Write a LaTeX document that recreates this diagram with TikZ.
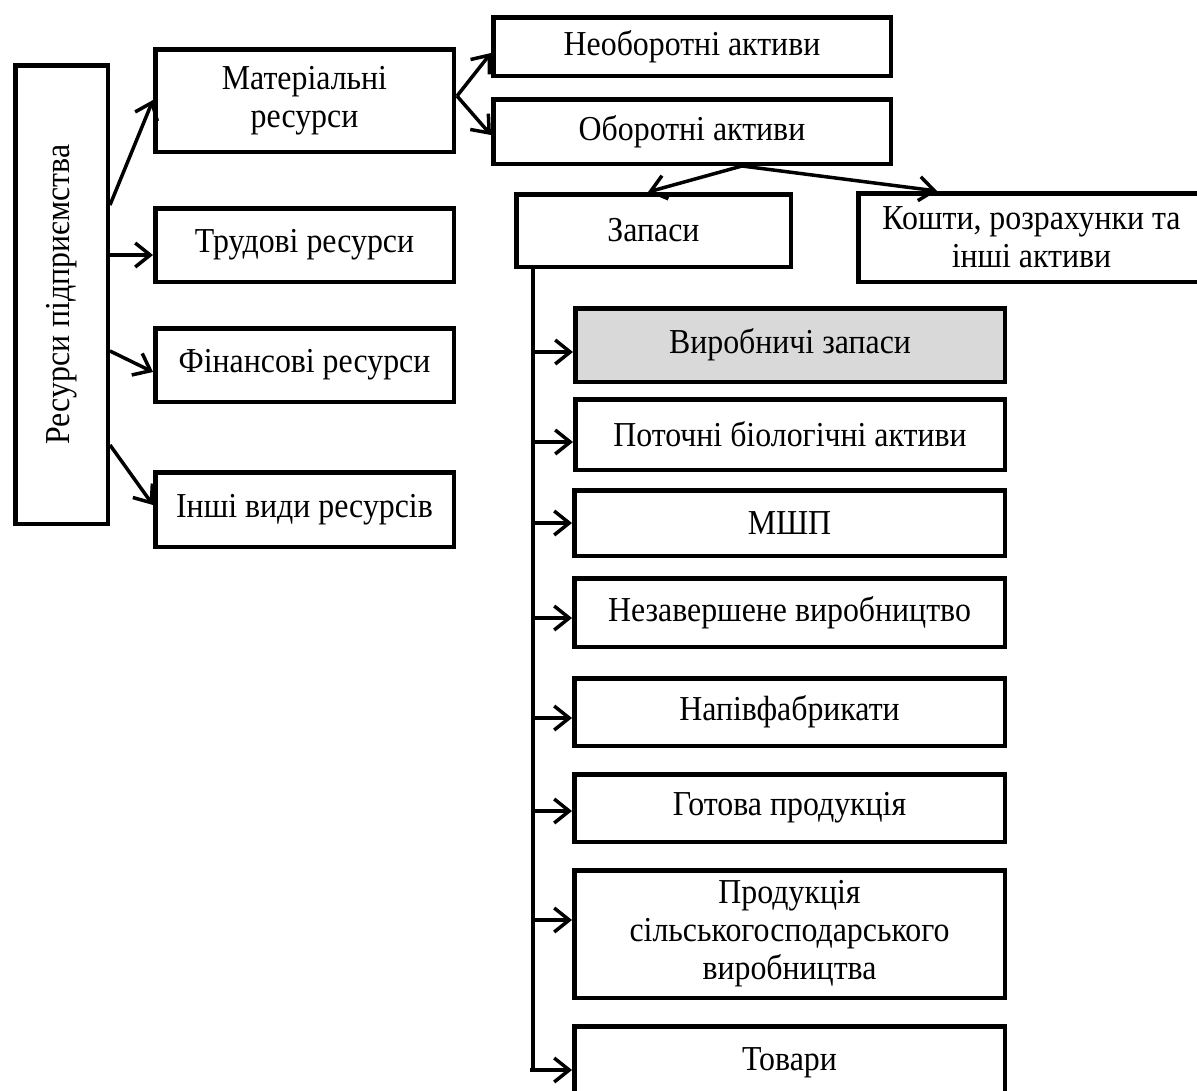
\documentclass[tikz,border=0pt]{standalone}
\usepackage{fontspec}
\setmainfont{Liberation Serif}[FakeStretch=0.91]
\usetikzlibrary{arrows.meta,calc}
\definecolor{boxgray}{RGB}{217,217,217}
\tikzset{
  box/.style={draw=black,line width=4.5pt,fill=white,inner sep=2pt,align=center,
    font=\fontsize{35}{38}\selectfont},
  arr/.style={line width=3.5pt,-{Straight Barb[length=15pt,width=24pt,line width=3.5pt]}},
  busline/.style={line width=3.5pt}
}
\newcommand{\mkbox}[7][]{\node[box,#1,minimum width={#4-#2-4.5},minimum height={#5-#3-4.5}] (#6) at ({(#2+#4)/2},{(#3+#5)/2}) {#7};}
\begin{document}
\begin{tikzpicture}[x=1pt,y=-1pt]
\useasboundingbox (0,0) rectangle (1197,1090);
\clip (0,0) rectangle (1197,1090);
% main vertical box
\node[box,rotate=90,minimum width={526-63-4.5},minimum height={110-13-4.5}] (main) at ({(13+110)/2},{(63+526)/2}) {Ресурси підприємства};
\mkbox{153}{47}{456}{154}{mat}{Матеріальні\\ресурси}
\mkbox{153}{206}{456}{284}{trud}{Трудові ресурси}
\mkbox{153}{326}{456}{404}{fin}{Фінансові ресурси}
\mkbox{153}{470}{456}{549}{insh}{Інші види ресурсів}
\mkbox{491}{15}{893}{78}{neob}{Необоротні активи}
\mkbox{491}{97}{893}{166}{obor}{Оборотні активи}
\mkbox{514}{192}{793}{269}{zap}{Запаси}
\mkbox{856}{191}{1207}{284}{kosh}{Кошти, розрахунки та\\інші активи}
\mkbox[fill=boxgray]{573}{306}{1007}{384}{vz}{Виробничі запаси}
\mkbox{573}{397}{1007}{472}{pot}{Поточні біологічні активи}
\mkbox{572}{488}{1007}{558}{msp}{МШП}
\mkbox{572}{576}{1007}{649}{nez}{Незавершене виробництво}
\mkbox{572}{676}{1007}{748}{nap}{Напівфабрикати}
\mkbox{572}{772}{1007}{844}{got}{Готова продукція}
\mkbox{572}{868}{1007}{1000}{prod}{Продукція\\сільськогосподарського\\виробництва}
\mkbox{572}{1024}{1007}{1102}{tov}{Товари}
% connectors from main
\coordinate (m1) at (110,205);
\coordinate (m2) at (110,255);
\coordinate (m3) at (110,351);
\coordinate (m4) at (110,445);
\coordinate (e1) at (152,100);
\coordinate (e3) at (152,372);
\coordinate (e4) at (152,505);
\draw[arr] (m1) -- (mat.west |- e1);
\draw[arr] (m2) -- (trud.west |- m2);
\draw[arr] (m3) -- (fin.west |- e3);
\draw[arr] (m4) -- (insh.west |- e4);
% from mat
\coordinate (ms) at (457,96);
\coordinate (n1) at (490,53);
\coordinate (n2) at (490,135);
\draw[arr] (ms) -- (neob.west |- n1);
\draw[arr] (ms) -- (obor.west |- n2);
% from obor
\coordinate (os) at (742,166);
\coordinate (z1) at (648,192);
\coordinate (k1) at (937,191);
\draw[arr] (os) -- (z1);
\draw[arr] (os) -- (k1);
% bus
\coordinate (bt) at (533,269);
\coordinate (bb) at (533,1070);
\draw[busline] (bt) -- (bb);
\foreach \t/\yy in {vz/352,pot/442,msp/523,nez/618,nap/718,got/811,prod/920}{
  \coordinate (s-\t) at (533,\yy);
  \draw[arr] (s-\t) -- (\t.west |- s-\t);
}
\coordinate (s-tov) at (530,1070);
\draw[arr] (s-tov) -- (tov.west |- s-tov);
\end{tikzpicture}
\end{document}
